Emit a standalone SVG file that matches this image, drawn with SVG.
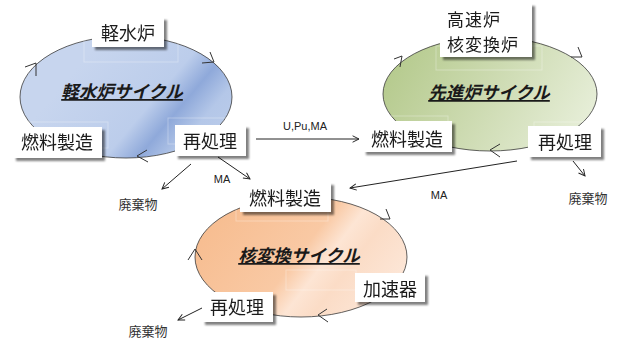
<svg xmlns="http://www.w3.org/2000/svg" width="621" height="342" viewBox="0 0 621 342">
<style>
.lbl{fill:#fff}
.faint{fill:none;stroke:#ffffff;stroke-opacity:0.3;stroke-width:1}
.t{font-family:"Noto Sans CJK JP","Noto Sans",sans-serif;font-size:18px;fill:#1a1a1a}
.t2{font-family:"Noto Sans CJK JP","Noto Sans",sans-serif;font-size:17px;fill:#1a1a1a;letter-spacing:1px}
.s{font-family:"Noto Sans CJK JP","Noto Sans",sans-serif;font-size:13px;fill:#333}
.m{font-family:"Liberation Sans",Arial,sans-serif;font-size:11px;fill:#222}
.title{font-family:"Noto Sans CJK JP","Noto Sans",sans-serif;font-size:17.5px;font-weight:bold;font-style:italic;fill:#1a1a1a}
.ell{stroke:#3a3a3a;stroke-width:0.8}
.chev{fill:none;stroke:#333;stroke-width:1}
.con{fill:none;stroke:#222;stroke-width:1;marker-end:url(#ah)}
</style>
<defs>
<linearGradient id="gBlue" gradientUnits="userSpaceOnUse" x1="100" y1="40" x2="260" y2="175">
<stop offset="0" stop-color="#c7d5ee"/>
<stop offset="0.38" stop-color="#bccdeb"/>
<stop offset="0.5" stop-color="#8fa9da"/>
<stop offset="0.62" stop-color="#b4c7e8"/>
<stop offset="1" stop-color="#c6d4ee"/>
</linearGradient>
<linearGradient id="gGreen" gradientUnits="userSpaceOnUse" x1="400" y1="45" x2="585" y2="150">
<stop offset="0" stop-color="#b5ca8d"/>
<stop offset="0.45" stop-color="#ccdab0"/>
<stop offset="1" stop-color="#e9f0dc"/>
</linearGradient>
<linearGradient id="gOrange" gradientUnits="userSpaceOnUse" x1="230" y1="205" x2="380" y2="320">
<stop offset="0" stop-color="#f7be92"/>
<stop offset="0.45" stop-color="#f9c9a4"/>
<stop offset="0.58" stop-color="#fde5d4"/>
<stop offset="0.7" stop-color="#fbdcc6"/>
<stop offset="1" stop-color="#fde8da"/>
</linearGradient>
<filter id="ds" x="-20%" y="-20%" width="150%" height="160%">
<feGaussianBlur in="SourceAlpha" stdDeviation="1.2"/>
<feOffset dx="2.5" dy="2.5" result="b"/>
<feComponentTransfer><feFuncA type="linear" slope="0.5"/></feComponentTransfer>
<feMerge><feMergeNode/><feMergeNode in="SourceGraphic"/></feMerge>
</filter>
<marker id="ah" viewBox="0 0 10 10" refX="9" refY="5" markerWidth="8" markerHeight="8" markerUnits="userSpaceOnUse" orient="auto">
<path d="M1,1 L9,5 L1,9" fill="none" stroke="#222" stroke-width="1.2"/>
</marker>
</defs>
<rect width="621" height="342" fill="#fff"/>

<g id="cycle-lwr">
<ellipse class="ell" cx="126" cy="97" rx="106" ry="61" fill="url(#gBlue)"/>
<path class="chev" d="M25,67 L36,63 L36,76"/>
<path class="chev" d="M210,52 L214,62 L202,63"/>
<path class="chev" d="M147,150 L137,156 L148,162"/>
<text class="title" x="122" y="98" text-anchor="middle" text-decoration="underline">軽水炉サイクル</text>
</g>

<g id="cycle-adv">
<ellipse class="ell" cx="490" cy="94" rx="107" ry="57" fill="url(#gGreen)"/>
<path class="chev" d="M394,59 L402,56 L400,67"/>
<path class="chev" d="M578,47 L582,57 L571,57"/>
<path class="chev" d="M500,144 L490,150 L500,157"/>
<text class="title" x="489" y="99" text-anchor="middle" text-decoration="underline">先進炉サイクル</text>
</g>

<g id="cycle-tr">
<ellipse class="ell" cx="301" cy="257" rx="106" ry="60" fill="url(#gOrange)"/>
<path class="chev" d="M386,209 L390,219 L380,219"/>
<path class="chev" d="M188,260 L195,249 L202,260"/>
<path class="chev" d="M327,309 L318,315 L328,322"/>
<text class="title" x="299" y="262" text-anchor="middle" text-decoration="underline">核変換サイクル</text>
</g>

<g id="faint-boxes">
<rect class="faint" x="84" y="36" width="94" height="26"/>
<rect class="faint" x="18" y="122" width="90" height="26"/>
<rect class="faint" x="168" y="118" width="70" height="26"/>
<rect class="faint" x="436" y="46" width="106" height="24"/>
<rect class="faint" x="368" y="116" width="80" height="26"/>
<rect class="faint" x="534" y="122" width="60" height="26"/>
<rect class="faint" x="236" y="205" width="92" height="16"/>
<rect class="faint" x="286" y="270" width="70" height="20"/>
</g>

<g id="connectors">
<line class="con" x1="256" y1="139" x2="359" y2="139"/>
<line class="con" x1="218" y1="157" x2="250" y2="179"/>
<line class="con" x1="191" y1="164" x2="162" y2="189"/>
<line class="con" x1="517" y1="161" x2="350" y2="188"/>
<line class="con" x1="573" y1="161" x2="585" y2="176"/>
<line class="con" x1="202" y1="308" x2="178" y2="320"/>
</g>

<g id="node-lwr-reactor" filter="url(#ds)">
<rect class="lbl" x="92" y="17" width="72" height="30"/>
<text class="t" x="128" y="40" text-anchor="middle">軽水炉</text>
</g>
<g id="node-lwr-fuel" filter="url(#ds)">
<rect class="lbl" x="13" y="127" width="89" height="31"/>
<text class="t" x="57" y="149" text-anchor="middle">燃料製造</text>
</g>
<g id="node-lwr-repro" filter="url(#ds)">
<rect class="lbl" x="175" y="125" width="71" height="31"/>
<text class="t" x="210" y="148" text-anchor="middle">再処理</text>
</g>
<g id="node-adv-reactor" filter="url(#ds)">
<rect class="lbl" x="440" y="3" width="92" height="54"/>
<text class="t2" x="447" y="26">高速炉</text>
<text class="t2" x="447" y="51">核変換炉</text>
</g>
<g id="node-adv-fuel" filter="url(#ds)">
<rect class="lbl" x="363" y="121" width="89" height="31"/>
<text class="t" x="407" y="146" text-anchor="middle">燃料製造</text>
</g>
<g id="node-adv-repro" filter="url(#ds)">
<rect class="lbl" x="528" y="126" width="73" height="31"/>
<text class="t" x="565" y="149" text-anchor="middle">再処理</text>
</g>
<g id="node-tr-fuel" filter="url(#ds)">
<rect class="lbl" x="240" y="182" width="91" height="30"/>
<text class="t" x="285" y="205" text-anchor="middle">燃料製造</text>
</g>
<g id="node-tr-acc" filter="url(#ds)">
<rect class="lbl" x="355" y="273" width="70" height="29"/>
<text class="t" x="390" y="296" text-anchor="middle">加速器</text>
</g>
<g id="node-tr-repro" filter="url(#ds)">
<rect class="lbl" x="202" y="292" width="71" height="30"/>
<text class="t" x="237" y="314" text-anchor="middle">再処理</text>
</g>

<g id="labels">
<text class="m" x="305" y="130" text-anchor="middle">U,Pu,MA</text>
<text class="m" x="222" y="183" text-anchor="middle">MA</text>
<text class="m" x="439" y="199" text-anchor="middle">MA</text>
<text class="s" x="138" y="209" text-anchor="middle">廃棄物</text>
<text class="s" x="588" y="203" text-anchor="middle">廃棄物</text>
<text class="s" x="148" y="336" text-anchor="middle">廃棄物</text>
</g>
</svg>
